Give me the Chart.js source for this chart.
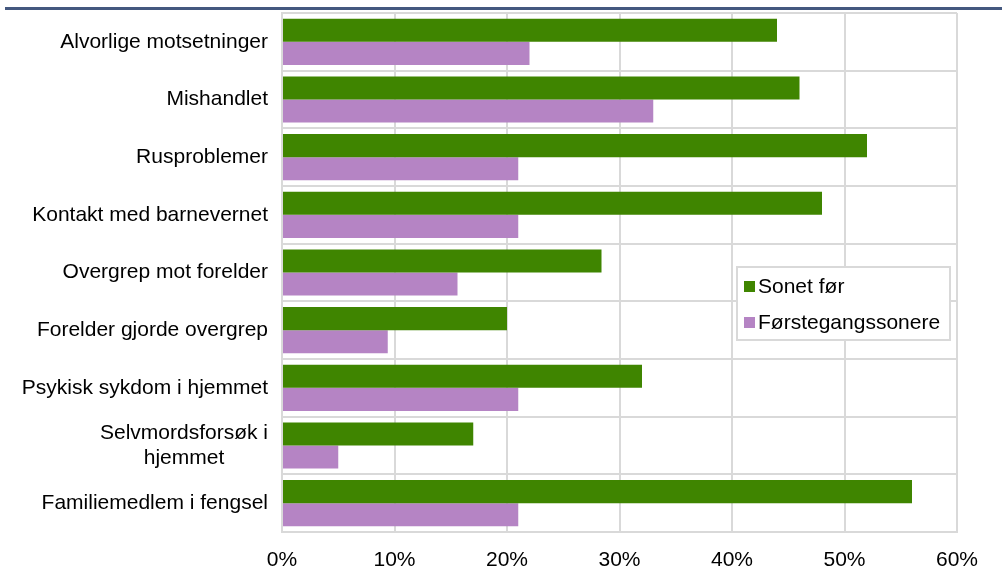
<!DOCTYPE html>
<html>
<head>
<meta charset="utf-8">
<script src="https://cdn.jsdelivr.net/npm/chart.js@4/dist/chart.umd.min.js"></script>
<style>
  html, body { margin: 0; padding: 0; background: #fff; }
  #wrap { position: relative; width: 1002px; height: 578px; }
  #topline { position: absolute; left: 5px; right: 0; top: 7px; height: 3px; background: #44587f; }
  canvas { display: block; }
</style>
</head>
<body>
<div id="wrap">
  <div id="topline"></div>
  <canvas id="chart" width="1002" height="578"></canvas>
</div>
<script>
// categories and values (percent)
const categories = [
  'Alvorlige motsetninger',
  'Mishandlet',
  'Rusproblemer',
  'Kontakt med barnevernet',
  'Overgrep mot forelder',
  'Forelder gjorde overgrep',
  'Psykisk sykdom i hjemmet',
  ['Selvmordsforsøk i', 'hjemmet'],
  'Familiemedlem i fengsel'
];
const sonetFor = [44, 46, 52, 48, 28.4, 20, 32, 17, 56];
const forstegangs = [22, 33, 21, 21, 15.6, 9.4, 21, 5, 21];
const xTicks = [0, 10, 20, 30, 40, 50, 60];

const FONT = '"Liberation Sans", Arial, sans-serif';
const FSIZE = 21;

// category labels: right aligned, multi-line labels centred inside their block
const catLabels = {
  id: 'catLabels',
  afterDraw(chart) {
    const { ctx } = chart;
    const y = chart.scales.y;
    const right = chart.chartArea.left - 14;
    ctx.save();
    ctx.font = FSIZE + 'px ' + FONT;
    ctx.fillStyle = '#000';
    ctx.textBaseline = 'middle';
    ctx.textAlign = 'center';
    chart.data.labels.forEach((lab, i) => {
      const lines = Array.isArray(lab) ? lab : [lab];
      const w = Math.max(...lines.map(l => ctx.measureText(l).width));
      const cx = right - w / 2;
      const cy = y.getPixelForTick(i);
      const lh = 25;
      lines.forEach((l, j) => {
        ctx.fillText(l, cx, cy + (j - (lines.length - 1) / 2) * lh);
      });
    });
    ctx.restore();
  }
};

// legend box drawn inside the plot area
const boxLegend = {
  id: 'boxLegend',
  afterDraw(chart) {
    const { ctx } = chart;
    const x = 737, y = 267, w = 213, h = 73;
    ctx.save();
    ctx.fillStyle = '#fff';
    ctx.fillRect(x, y, w, h);
    ctx.strokeStyle = '#d9d9d9';
    ctx.lineWidth = 2;
    ctx.strokeRect(x, y, w, h);
    ctx.font = FSIZE + 'px ' + FONT;
    ctx.textBaseline = 'middle';
    chart.data.datasets.forEach((ds, i) => {
      const cy = y + 20 + i * 36;
      ctx.fillStyle = ds.backgroundColor;
      ctx.fillRect(x + 7, cy - 6, 11, 11);
      ctx.fillStyle = '#000';
      ctx.fillText(ds.label, x + 21, cy);
    });
    ctx.restore();
  }
};

new Chart(document.getElementById('chart'), {
  type: 'bar',
  data: {
    labels: categories,
    datasets: [
      { label: 'Sonet før', data: sonetFor, backgroundColor: '#3f8500', barPercentage: 1, categoryPercentage: 0.8 },
      { label: 'Førstegangssonere', data: forstegangs, backgroundColor: '#b584c4', barPercentage: 1, categoryPercentage: 0.8 }
    ]
  },
  options: {
    indexAxis: 'y',
    responsive: false,
    animation: false,
    layout: { padding: { top: 13, right: 45, left: 0, bottom: 0 } },
    plugins: { legend: { display: false }, tooltip: { enabled: false } },
    scales: {
      x: {
        min: 0, max: 60,
        afterBuildTicks: s => { s.ticks = xTicks.map(v => ({ value: v })); },
        afterFit: s => { s.height = 46; },
        grid: { color: '#d9d9d9', lineWidth: 2, drawTicks: false },
        border: { color: '#d9d9d9', width: 2 },
        ticks: { color: '#000', padding: 16, font: { family: FONT, size: FSIZE }, callback: v => v + '%' }
      },
      y: {
        afterFit: s => { s.width = 282; s.paddingTop = 0; s.paddingBottom = 0; },
        grid: { color: '#d9d9d9', lineWidth: 2, drawTicks: false, offset: true },
        border: { color: '#d9d9d9', width: 2 },
        ticks: { display: false }
      }
    }
  },
  plugins: [catLabels, boxLegend]
});
</script>
</body>
</html>
